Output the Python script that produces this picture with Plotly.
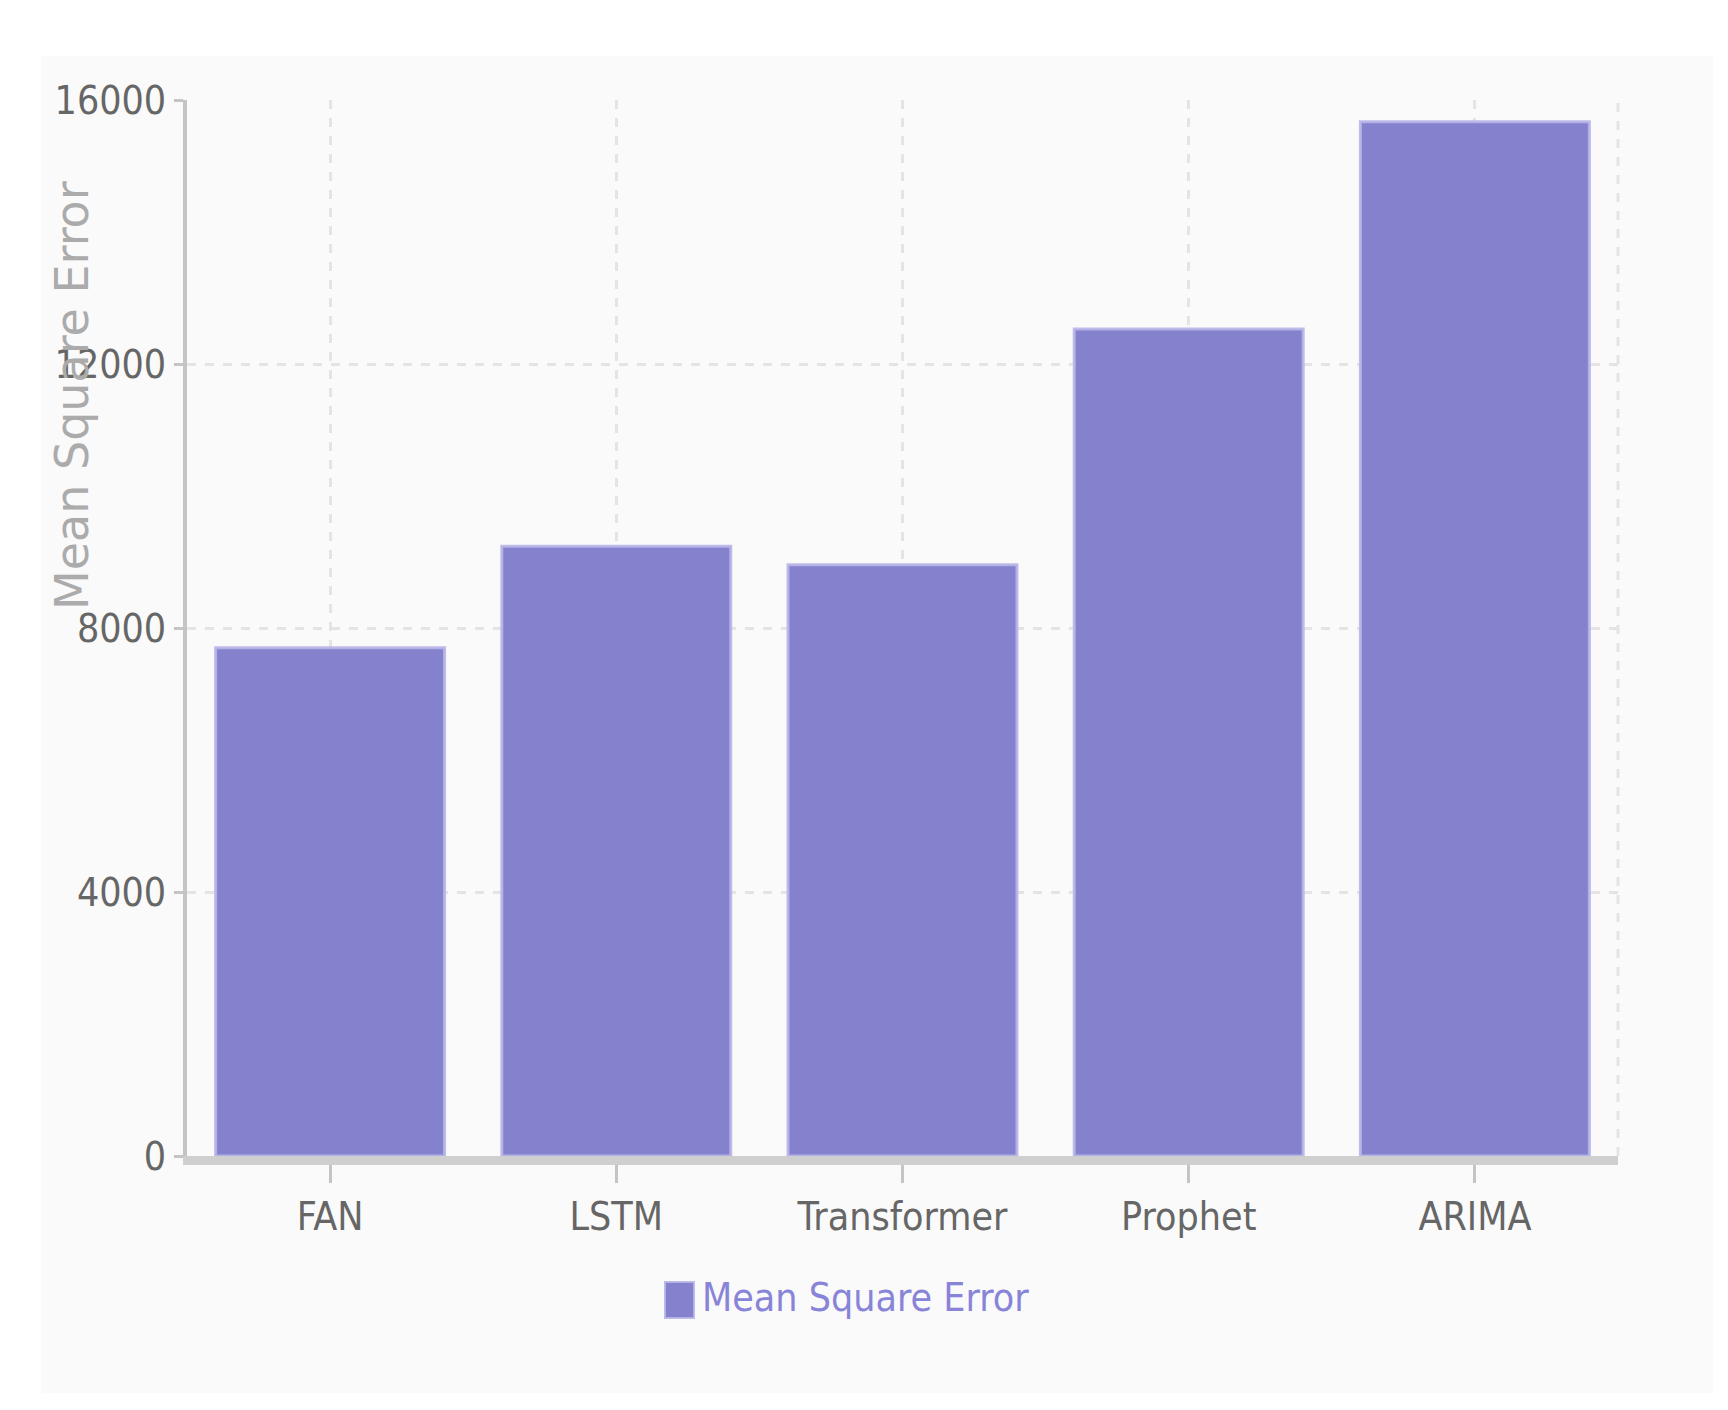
import plotly.graph_objs as go

models = ["FAN", "LSTM", "Transformer", "Prophet", "ARIMA"]
mse_values = [7700, 9240, 8960, 12530, 15670]
y_tick_values = [0, 4000, 8000, 12000, 16000]
y_tick_labels = ["0", "4000", "8000", "12000", "16000"]
series_name = "Mean Square Error"

WIDTH = 1728
HEIGHT = 1410
LEFT, RIGHT, TOP, BOTTOM = 179, 118, 92, 262
PLOT_W = WIDTH - LEFT - RIGHT
PLOT_H = HEIGHT - TOP - BOTTOM

NARROW = "Liberation Sans Narrow, DejaVu Sans Condensed, Arial Narrow, sans-serif"
BAR_FILL = "#8582cd"
BAR_EDGE = "rgba(184, 181, 232, 0.9)"
GRID = "#e4e4e4"


def px_x(x):
    # pixel column -> paper coordinate
    return (x - LEFT) / PLOT_W


def px_y(y):
    # pixel row -> paper coordinate
    return (HEIGHT - BOTTOM - y) / PLOT_H


fig = go.Figure()
fig.add_trace(
    go.Bar(
        x = models,
        y = mse_values,
        name = series_name,
        marker = dict(
            color = BAR_FILL,
            line = dict(color = BAR_EDGE, width = 3)
        ),
        showlegend = False
    )
)

# light panel behind the chart
fig.add_shape(
    type = "rect", xref = "paper", yref = "paper", layer = "below",
    x0 = px_x(33), x1 = px_x(1705), y0 = px_y(1385), y1 = px_y(48),
    fillcolor = "#fafafa", line = dict(width = 0)
)
# dashed right border of the grid
fig.add_shape(
    type = "line", xref = "paper", yref = "paper", layer = "below",
    x0 = 1, x1 = 1, y0 = 0, y1 = 1,
    line = dict(color = GRID, width = 3, dash = "9px,9px")
)
# hand-drawn legend so the swatch can match the big text
fig.add_shape(
    type = "rect", xref = "paper", yref = "paper",
    x0 = px_x(657), x1 = px_x(686), y0 = px_y(1310), y1 = px_y(1274),
    fillcolor = BAR_FILL, line = dict(color = BAR_EDGE, width = 2)
)
fig.add_annotation(
    x = px_x(692), y = px_y(1289), xref = "paper", yref = "paper",
    text = series_name, showarrow = False, xanchor = "left", yanchor = "middle",
    font = dict(family = NARROW, size = 39, color = "#8884d8")
)
fig.add_annotation(
    x = px_x(64), y = px_y(388), xref = "paper", yref = "paper",
    text = series_name, showarrow = False, textangle = -90,
    xanchor = "center", yanchor = "middle",
    font = dict(family = "DejaVu Sans, sans-serif", size = 46, color = "#ababab")
)

fig.update_xaxes(
    showline = True, linecolor = "#cfcfcf", linewidth = 9,
    ticks = "outside", ticklen = 18, tickwidth = 3, tickcolor = "#c4c4c4",
    showgrid = True, gridcolor = GRID, gridwidth = 3, griddash = "9px,9px",
    tickfont = dict(family = NARROW, size = 39, color = "#666666"),
    zeroline = False
)
fig.update_yaxes(
    range = [0, 16000], tickvals = y_tick_values, ticktext = y_tick_labels,
    showline = True, linecolor = "#c4c4c4", linewidth = 4,
    ticks = "outside", ticklen = 9, tickwidth = 3, tickcolor = "#c4c4c4",
    showgrid = True, gridcolor = GRID, gridwidth = 3, griddash = "9px,9px",
    tickfont = dict(family = NARROW, size = 39, color = "#666666"),
    zeroline = False
)
fig.update_layout(
    width = WIDTH,
    height = HEIGHT,
    margin = dict(l = LEFT, r = RIGHT, t = TOP, b = BOTTOM, autoexpand = False),
    paper_bgcolor = "#ffffff",
    plot_bgcolor = "rgba(0,0,0,0)",
    bargap = 0.2,
    showlegend = False
)

fig.write_html("out.html")
